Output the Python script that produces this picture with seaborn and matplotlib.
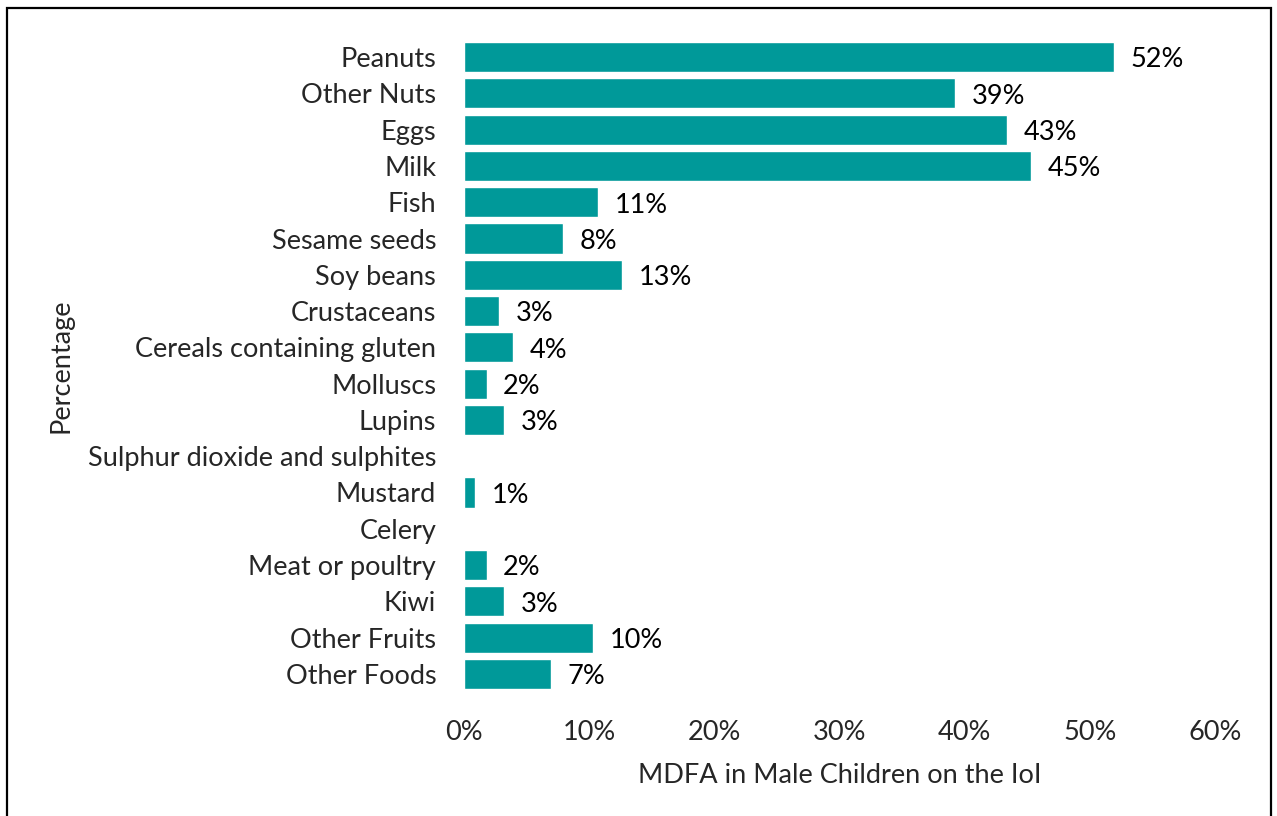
import matplotlib
matplotlib.use("Agg")
import matplotlib.pyplot as plt
import seaborn as sns
import pandas as pd
from matplotlib.patches import Rectangle

categories = ["Peanuts", "Other Nuts", "Eggs", "Milk", "Fish", "Sesame seeds",
              "Soy beans", "Crustaceans", "Cereals containing gluten", "Molluscs",
              "Lupins", "Sulphur dioxide and sulphites", "Mustard", "Celery",
              "Meat or poultry", "Kiwi", "Other Fruits", "Other Foods"]
values = [51.9, 39.2, 43.4, 45.3, 10.7, 7.9, 12.6, 2.8, 3.9, 1.8,
          3.2, 0.0, 0.85, 0.0, 1.8, 3.2, 10.3, 6.95]
xticks = [0, 10, 20, 30, 40, 50, 60]
xtick_labels = ["0%", "10%", "20%", "30%", "40%", "50%", "60%"]
xlabel = "MDFA in Male Children on the IoI"
ylabel = "Percentage"

sns.set_theme(style="white")
plt.rcParams["font.family"] = ["Lato", "DejaVu Sans"]
FS = 19.5

W, H = 1277, 816
fig = plt.figure(figsize=(W / 100, H / 100), dpi=100)
ax = fig.add_axes([464 / W, 1 - 692 / H, (1215 - 464) / W, (692 - 39) / H])

df = pd.DataFrame({"cat": categories, "val": values})
sns.barplot(data=df, y="cat", x="val", orient="h", color="#009999",
            saturation=1, width=0.83, ax=ax)

for c in ax.containers:
    labels = [f"{v:.0f}%" if v > 0 else "" for v in c.datavalues]
    anns = ax.bar_label(c, labels=labels, padding=12, fontsize=FS, color="black")
    for a in anns:
        a.xyann = (12, -2)

ax.set_xlim(0, 60)
ax.set_xticks(xticks)
ax.set_xticklabels(xtick_labels, fontsize=FS)
ax.tick_params(axis="x", length=0, pad=20)
ax.tick_params(axis="y", length=0, pad=20, labelsize=FS)
for s in ax.spines.values():
    s.set_visible(False)
ax.grid(False)

ax.set_xlabel(xlabel, fontsize=FS)
ax.xaxis.set_label_coords(0.5, -0.108)
ax.set_ylabel(ylabel, fontsize=FS)
ax.yaxis.set_label_coords(-0.52, 0.5)

fig.patches.append(Rectangle((7 / W, -0.05), (1271 - 7) / W, 1.05 - 8 / H,
                             transform=fig.transFigure, fill=False,
                             edgecolor="black", linewidth=1.6))

fig.savefig("out.png", dpi=100, facecolor="white")
